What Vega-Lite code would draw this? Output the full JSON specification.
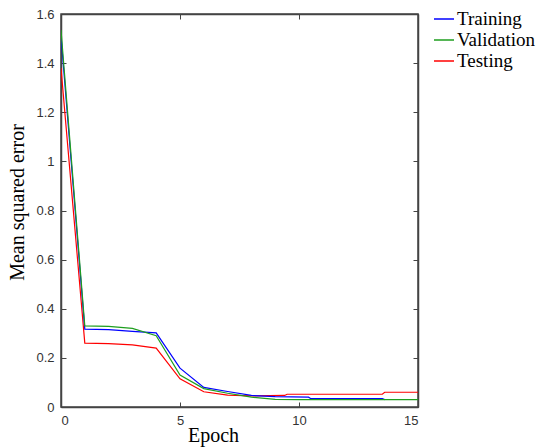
{
  "$schema": "https://vega.github.io/schema/vega-lite/v6.json",
  "width": 357,
  "height": 393,
  "autosize": {"type": "none"},
  "padding": {"left": 61, "top": 14, "right": 131, "bottom": 40},
  "background": "white",
  "config": {
    "view": {"stroke": "#444", "strokeWidth": 1.5},
    "axis": {
      "grid": false,
      "domainColor": "#444",
      "domainWidth": 1.5,
      "tickColor": "#444",
      "tickSize": -5,
      "labelFont": "Liberation Sans",
      "labelFontSize": 13,
      "labelColor": "#333",
      "titleFont": "Liberation Serif",
      "titleFontSize": 20,
      "titleFontWeight": "normal",
      "titleColor": "black"
    }
  },
  "data": {
    "values": [
      {"series": "Testing", "epoch": 0, "mse": 1.38},
      {"series": "Testing", "epoch": 1, "mse": 0.26},
      {"series": "Testing", "epoch": 2, "mse": 0.258},
      {"series": "Testing", "epoch": 3, "mse": 0.253},
      {"series": "Testing", "epoch": 4, "mse": 0.24},
      {"series": "Testing", "epoch": 5, "mse": 0.115},
      {"series": "Testing", "epoch": 6, "mse": 0.062},
      {"series": "Testing", "epoch": 7, "mse": 0.048},
      {"series": "Testing", "epoch": 8, "mse": 0.045},
      {"series": "Testing", "epoch": 9.4, "mse": 0.047},
      {"series": "Testing", "epoch": 9.5, "mse": 0.052},
      {"series": "Testing", "epoch": 13.5, "mse": 0.052},
      {"series": "Testing", "epoch": 13.6, "mse": 0.06},
      {"series": "Testing", "epoch": 15, "mse": 0.06},
      {"series": "Training", "epoch": 0, "mse": 1.51},
      {"series": "Training", "epoch": 1, "mse": 0.317},
      {"series": "Training", "epoch": 2, "mse": 0.315},
      {"series": "Training", "epoch": 3, "mse": 0.308},
      {"series": "Training", "epoch": 4, "mse": 0.302},
      {"series": "Training", "epoch": 5, "mse": 0.158},
      {"series": "Training", "epoch": 6, "mse": 0.08},
      {"series": "Training", "epoch": 7, "mse": 0.063},
      {"series": "Training", "epoch": 8, "mse": 0.047},
      {"series": "Training", "epoch": 9, "mse": 0.042},
      {"series": "Training", "epoch": 10.4, "mse": 0.04},
      {"series": "Training", "epoch": 10.5, "mse": 0.034},
      {"series": "Training", "epoch": 13.5, "mse": 0.034},
      {"series": "Training", "epoch": 13.6, "mse": 0.03},
      {"series": "Validation", "epoch": 0, "mse": 1.535},
      {"series": "Validation", "epoch": 1, "mse": 0.33},
      {"series": "Validation", "epoch": 2, "mse": 0.328},
      {"series": "Validation", "epoch": 3, "mse": 0.32},
      {"series": "Validation", "epoch": 4, "mse": 0.29},
      {"series": "Validation", "epoch": 5, "mse": 0.13},
      {"series": "Validation", "epoch": 6, "mse": 0.075},
      {"series": "Validation", "epoch": 7, "mse": 0.056},
      {"series": "Validation", "epoch": 8, "mse": 0.04},
      {"series": "Validation", "epoch": 9, "mse": 0.031},
      {"series": "Validation", "epoch": 10, "mse": 0.03},
      {"series": "Validation", "epoch": 15, "mse": 0.03}
    ]
  },
  "resolve": {"axis": {"x": "independent", "y": "independent"}},
  "layer": [
    {
      "mark": {"type": "line", "strokeWidth": 1.2, "clip": true},
      "encoding": {
        "x": {
          "field": "epoch", "type": "quantitative",
          "scale": {"domain": [0, 15], "nice": false},
          "axis": {"values": [0, 5, 10, 15], "format": "~g", "title": "Epoch", "labelPadding": 12, "titleX": 152, "titleY": 34, "titleBaseline": "alphabetic"}
        },
        "y": {
          "field": "mse", "type": "quantitative",
          "scale": {"domain": [0, 1.6], "nice": false},
          "axis": {"values": [0, 0.2, 0.4, 0.6, 0.8, 1, 1.2, 1.4, 1.6], "format": "~g", "title": "Mean squared error", "labelPadding": 12, "titleX": -38, "titleY": 188, "titleAngle": -90, "titleBaseline": "alphabetic"}
        },
        "color": {
          "field": "series", "type": "nominal",
          "sort": ["Training", "Validation", "Testing"],
          "scale": {"domain": ["Training", "Validation", "Testing"], "range": ["#0000ff", "#1e9e1e", "#ff0000"]},
          "legend": {
            "title": null,
            "orient": "none",
            "legendX": 372,
            "legendY": -6,
            "symbolType": "stroke",
            "symbolSize": 400,
            "symbolStrokeWidth": 1.5,
            "labelFont": "Liberation Serif",
            "labelFontSize": 19,
            "labelColor": "black",
            "labelOffset": 2,
            "rowPadding": 0
          }
        }
      }
    },
    {
      "mark": {"type": "line", "strokeOpacity": 0},
      "encoding": {
        "x": {
          "field": "epoch", "type": "quantitative",
          "scale": {"domain": [0, 15], "nice": false},
          "axis": {"orient": "top", "values": [0, 5, 10, 15], "labels": false, "title": null}
        },
        "y": {
          "field": "mse", "type": "quantitative",
          "scale": {"domain": [0, 1.6], "nice": false},
          "axis": {"orient": "right", "values": [0, 0.2, 0.4, 0.6, 0.8, 1, 1.2, 1.4, 1.6], "labels": false, "title": null}
        },
        "detail": {"field": "series"}
      }
    }
  ]
}
